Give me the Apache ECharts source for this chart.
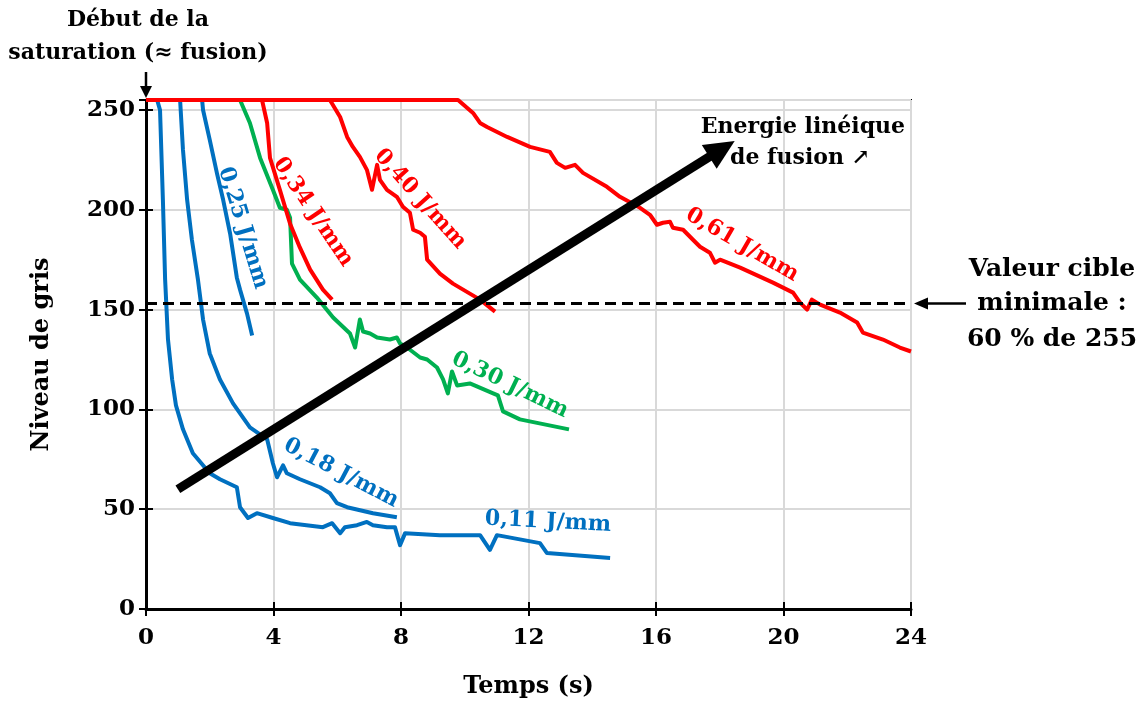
<!DOCTYPE html>
<html><head><meta charset="utf-8">
<script src="https://cdn.jsdelivr.net/npm/echarts@6/dist/echarts.min.js"></script>
<style>html,body{margin:0;padding:0;background:#fff}#c{width:1140px;height:706px}</style>
</head><body><div id="c"></div>
<script>
// ---- data (time in s, grey level) ----
const xTicks = [0, 4, 8, 12, 16, 20, 24];
const yTicks = [0, 50, 100, 150, 200, 250];
const s011 = [[0,255],[0.35,255],[0.44,250],[0.53,205],[0.6,165],[0.69,135],[0.82,115],[0.94,102],[1.16,90],[1.47,78],[2.0,68],[2.32,65],[2.85,61],[2.95,51],[3.2,45.6],[3.48,48],[3.98,45.6],[4.52,43],[5.55,41],[5.84,43],[6.09,38],[6.24,41],[6.62,42],[6.93,43.6],[7.12,42],[7.56,41],[7.81,41],[7.97,32],[8.13,38],[9.22,37],[10.48,37],[10.79,29.6],[11.01,37],[12.36,33],[12.58,28],[14.56,25.5]];
const s018 = [[0,255],[1.07,255],[1.16,230],[1.29,205],[1.44,185],[1.63,165],[1.79,145],[2.0,128],[2.32,115],[2.73,103],[3.26,91],[3.8,85],[3.98,73],[4.11,66],[4.3,72],[4.42,68],[4.83,65],[5.46,61],[5.77,58],[5.99,53],[6.31,51],[7.12,48],[7.87,46]];
const s025 = [[0,255],[1.76,255],[1.79,250],[2.0,235],[2.23,218],[2.42,205],[2.64,188],[2.85,166],[2.95,160],[3.17,148],[3.33,137]];
const s030 = [[0,255],[2.95,255],[3.26,243.5],[3.58,226],[3.98,210],[4.2,201],[4.42,200],[4.52,196],[4.58,173],[4.83,165],[5.36,156],[5.87,146],[6.4,138],[6.56,131],[6.71,145],[6.81,139],[7.03,138],[7.25,136],[7.65,135],[7.87,136],[7.97,133],[8.19,131],[8.6,126],[8.82,125],[9.13,121],[9.32,115],[9.47,108],[9.6,119],[9.76,112],[10.16,113],[10.89,108],[11.04,107],[11.2,99],[11.73,95],[13.27,90]];
const s034 = [[0,255],[3.64,255],[3.8,243.5],[3.89,226],[4.2,210],[4.52,193],[4.83,181],[5.15,170],[5.55,160],[5.84,155]];
const s040 = [[0,255],[5.77,255],[6.09,246.5],[6.31,236.5],[6.49,231.5],[6.71,226.5],[6.93,220],[7.09,210],[7.25,222.5],[7.34,215],[7.56,210],[7.87,206.5],[8.06,201.5],[8.28,198.5],[8.38,190],[8.6,188.5],[8.75,186.5],[8.82,175],[9.22,168],[9.63,163],[10.16,158],[10.48,155],[10.95,149]];
const s061 = [[0,255],[9.79,255],[10.26,248.5],[10.48,243.5],[10.7,241.5],[11.33,236.5],[12.05,231.5],[12.67,229],[12.89,223.5],[13.15,221],[13.46,222.5],[13.71,218.5],[14.46,211.5],[14.87,206.5],[15.5,201],[15.81,197.5],[16.03,192.5],[16.22,193.5],[16.44,194],[16.53,191],[16.85,190],[17.16,185],[17.38,181.5],[17.69,178.5],[17.85,173.5],[18.01,175],[18.64,171],[19.67,163.5],[20.3,158.5],[20.52,153.5],[20.74,150],[20.89,155],[21.15,152.5],[21.77,148.5],[22.31,143.5],[22.49,138.5],[23.12,135],[23.65,131],[24,129]];
const targetLevel = 153;               // 60 % de 255
const trendArrow = [[1.0, 60], [18.07, 230.5]];
const curveLabels = [
  {text:'0,25 J/mm', at:[3.04,190.9], angle:73, color:'#0070C0'},
  {text:'0,34 J/mm', at:[5.24,198.9], angle:56, color:'#FF0000'},
  {text:'0,40 J/mm', at:[8.6,205.4], angle:48, color:'#FF0000'},
  {text:'0,61 J/mm', at:[18.7,182.4], angle:30, color:'#FF0000'},
  {text:'0,30 J/mm', at:[11.42,112.2], angle:25.6, color:'#00B050'},
  {text:'0,18 J/mm', at:[6.12,68.1], angle:27.6, color:'#0070C0'},
  {text:'0,11 J/mm', at:[12.61,43.6], angle:3, color:'#0070C0'}
];
// -------------------------------------
const FONT = "'DejaVu Serif', serif";
const BLUE = '#0070C0', GREEN = '#00B050', RED = '#FF0000';
const chart = echarts.init(document.getElementById('c'));
function line(name, data, color) {
  return {name, type:'line', data, showSymbol:false, symbol:'none', lineStyle:{color, width:4, join:'round'}, itemStyle:{color}, z:3};
}
const lbl = {fontFamily:FONT, fontWeight:'bold', fontSize:23, color:'#000'};
chart.setOption({
  animation:false,
  backgroundColor:'#fff',
  grid:{left:146, right:229, top:100, bottom:97, show:true, borderColor:'#000', borderWidth:2},
  xAxis:[{type:'value', min:0, max:24, interval:4,
    name:'Temps (s)', nameLocation:'middle', nameGap:66,
    nameTextStyle:{fontFamily:FONT, fontWeight:'bold', fontSize:24, color:'#000'},
    axisLine:{lineStyle:{color:'#000', width:3}}, axisTick:{show:true, length:7, lineStyle:{color:'#000', width:2}},
    axisLabel:Object.assign({margin:18}, lbl),
    splitLine:{lineStyle:{color:'#d9d9d9', width:2}}},
   {type:'value', min:0, max:24, interval:4, position:'bottom',
    axisLine:{show:false}, axisLabel:{show:false}, splitLine:{show:false},
    axisTick:{show:true, inside:true, length:7, lineStyle:{color:'#000', width:2}}}],
  yAxis:[{type:'value', min:0, max:255, interval:50,
    name:'Niveau de gris', nameLocation:'middle', nameGap:92, nameRotate:90,
    nameTextStyle:{fontFamily:FONT, fontWeight:'bold', fontSize:24, color:'#000'},
    axisLine:{show:true, lineStyle:{color:'#000', width:3}}, axisTick:{show:true, length:7, lineStyle:{color:'#000', width:2}},
    axisLabel:Object.assign({margin:11, formatter:v => (v % 50 === 0 ? String(v) : '')}, lbl),
    splitLine:{lineStyle:{color:'#d9d9d9', width:2}}},
   {type:'value', min:0, max:255, interval:50, position:'left',
    axisLine:{show:false}, axisLabel:{show:false}, splitLine:{show:false},
    axisTick:{show:true, inside:true, length:7, lineStyle:{color:'#000', width:2}}}],
  series:[
    line('0,11 J/mm', s011, BLUE),
    line('0,18 J/mm', s018, BLUE),
    line('0,25 J/mm', s025, BLUE),
    line('0,30 J/mm', s030, GREEN),
    line('0,34 J/mm', s034, RED),
    line('0,40 J/mm', s040, RED),
    Object.assign(line('0,61 J/mm', s061, RED), {
      markLine:{silent:true, symbol:['none','none'], label:{show:false},
        lineStyle:{color:'#000', width:3, type:[11,6]}, data:[{yAxis:targetLevel}], z:4}}),
    {name:'arrow', type:'line', data:[], z:6, itemStyle:{color:'#000'},
      markLine:{silent:true, symbol:['none','triangle'], symbolSize:[28,30], label:{show:false},
        itemStyle:{color:'#000'},
        lineStyle:{color:'#000', width:9, type:'solid'},
        data:[[{coord:trendArrow[0]},{coord:trendArrow[1]}]]}}
  ]
});
function px(p){ return chart.convertToPixel({gridIndex:0}, p); }
const g = [];
curveLabels.forEach(l => {
  const p = px(l.at);
  g.push({type:'text', x:p[0], y:p[1], rotation:-l.angle*Math.PI/180, z:10,
    style:{text:l.text, x:0, y:0, align:'center', verticalAlign:'middle', fill:l.color,
      font:"bold 22px "+FONT}});
});
const o = px([0,255]);
const tgt = px([24,targetLevel]);
// top annotation
g.push({type:'text', x:o[0]-8, y:20, z:10, style:{text:'Début de la', align:'center', verticalAlign:'middle', font:"bold 22px "+FONT, fill:'#000'}});
g.push({type:'text', x:o[0]-8, y:53, z:10, style:{text:'saturation (≈ fusion)', align:'center', verticalAlign:'middle', font:"bold 22px "+FONT, fill:'#000'}});
g.push({type:'line', z:10, shape:{x1:o[0], y1:72, x2:o[0], y2:o[1]-10}, style:{stroke:'#000', lineWidth:2.5}});
g.push({type:'polygon', z:10, shape:{points:[[o[0]-6,o[1]-14],[o[0]+6,o[1]-14],[o[0],o[1]-2]]}, style:{fill:'#000'}});
// right annotation
g.push({type:'line', z:10, shape:{x1:tgt[0]+12, y1:tgt[1], x2:tgt[0]+55, y2:tgt[1]}, style:{stroke:'#000', lineWidth:2.5}});
g.push({type:'polygon', z:10, shape:{points:[[tgt[0]+3,tgt[1]],[tgt[0]+17,tgt[1]-6],[tgt[0]+17,tgt[1]+6]]}, style:{fill:'#000'}});
[['Valeur cible',-34],['minimale :',0],['60 % de 255',36]].forEach(t => {
  g.push({type:'text', x:1052, y:tgt[1]+t[1], z:10, style:{text:t[0], align:'center', verticalAlign:'middle', font:"bold 25px "+FONT, fill:'#000'}});
});
// arrow caption
const cap = px([24,255]);
g.push({type:'text', x:cap[0]-6, y:127, z:10, style:{text:'Energie linéique', align:'right', verticalAlign:'middle', font:"bold 22px "+FONT, fill:'#000'}});
g.push({type:'text', x:800, y:158, z:10, style:{text:'de fusion ↗', align:'center', verticalAlign:'middle', font:"bold 22px "+FONT, fill:'#000'}});
chart.setOption({graphic:g});
</script></body></html>
